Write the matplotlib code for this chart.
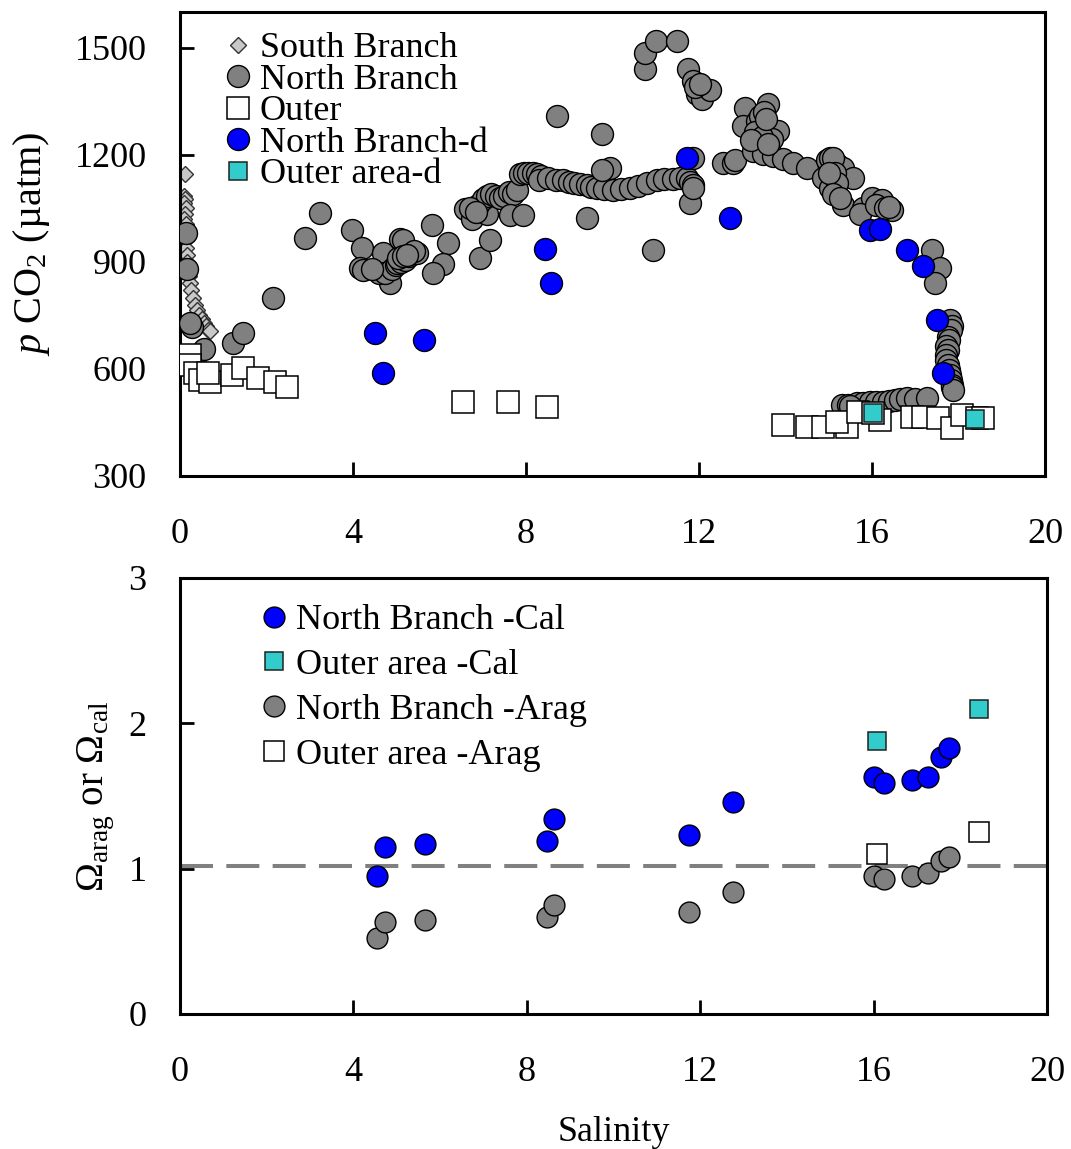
import matplotlib
matplotlib.use('Agg')
import matplotlib.pyplot as plt

plt.rcParams['font.family'] = ['Liberation Serif', 'DejaVu Serif']
plt.rcParams['mathtext.fontset'] = 'custom'
plt.rcParams['mathtext.rm'] = 'Liberation Serif'
plt.rcParams['mathtext.it'] = 'Liberation Serif:italic'

# ---------------- data: top panel (pCO2 vs salinity) ----------------
sb_sal = [0.12, 0.10, 0.12, 0.10, 0.13, 0.12, 0.10, 0.13, 0.12, 0.14, 0.15, 0.16, 0.17,
          0.18, 0.20, 0.22, 0.25, 0.30, 0.35, 0.40, 0.45, 0.50, 0.55, 0.60, 0.65, 0.70]
sb_pco2 = [1147, 1085, 1075, 1065, 1050, 1035, 1020, 1005, 990, 960, 940, 920, 900,
           880, 860, 840, 820, 800, 780, 765, 750, 740, 730, 720, 710, 705]

nb_sal = [0.14, 0.16, 0.28, 0.22, 0.55,
          1.23, 1.46, 2.15, 2.89, 3.24,
          3.98, 4.20, 4.16, 4.23, 4.55, 4.69, 4.86, 4.60, 4.75, 4.90, 5.00, 5.02, 5.09, 5.16,
          5.10, 5.20, 5.30, 5.32, 5.48, 5.40, 5.83, 6.20, 6.08, 5.85, 4.45, 5.05, 5.15, 5.25,
          6.59, 6.75, 6.94, 7.10, 7.17, 6.90, 7.00, 7.10, 7.20, 7.30, 7.40, 7.50, 7.60, 7.70,
          7.80, 7.63, 7.93, 7.86, 7.95, 8.05, 8.16, 8.25, 8.35, 8.30, 6.70, 6.85,
          8.50, 8.70, 8.86, 9.00, 9.10, 9.25, 9.40, 9.50, 9.64, 9.80, 10.00, 10.20, 10.40,
          10.60, 10.80, 11.03, 11.20, 11.40, 11.55, 11.72, 11.80, 11.85, 11.79, 11.86, 11.86,
          9.41, 10.94, 9.94, 9.76, 8.72, 9.76,
          10.75, 10.75, 11.00, 11.49, 11.75, 11.86, 11.95, 12.07, 12.25, 11.90, 12.02,
          12.56, 12.79, 12.83, 13.06, 13.60, 13.02, 13.34, 13.57, 13.83, 13.69, 13.25, 13.48,
          13.71, 13.94, 14.17, 14.50, 13.40, 13.50, 13.30, 13.45, 13.20, 13.60, 13.55,
          14.96, 15.03, 15.19, 15.33, 15.56, 14.87, 15.03, 15.33, 15.79, 16.00, 16.23, 16.46,
          15.72, 15.10, 15.15, 15.20, 15.00, 15.10, 15.25, 16.10, 16.30, 16.40,
          17.39, 17.57, 17.46, 17.80, 17.85, 17.82, 17.75, 17.78, 17.72, 17.75, 17.70, 17.72,
          17.75, 17.78, 17.80, 17.82, 17.85, 17.86, 17.88,
          15.30, 15.45, 15.65, 15.80, 15.95, 16.10, 16.25, 16.40, 16.53, 16.65, 16.80, 17.00,
          17.27, 15.50]
nb_pco2 = [982, 880, 717, 730, 655,
           672, 700, 798, 968, 1038,
           988, 940, 884, 876, 876, 926, 840, 870, 868, 880, 890, 896, 965, 960,
           900, 905, 915, 923, 926, 930, 1002, 954, 895, 868, 880, 910, 915, 920,
           1049, 1021, 912, 1035, 960, 1060, 1075, 1085, 1090, 1085, 1080, 1085, 1095, 1091,
           1100, 1030, 1030, 1147, 1148, 1150, 1150, 1145, 1140, 1130, 1050, 1040,
           1135, 1130, 1128, 1125, 1120, 1119, 1115, 1110, 1108, 1103, 1100, 1105, 1108,
           1112, 1120, 1128, 1132, 1133, 1135, 1136, 1125, 1115, 1066, 1108, 1192,
           1024, 932, 1164, 1156, 1309, 1259,
           1441, 1486, 1519, 1519, 1441, 1407, 1371, 1357, 1382, 1390, 1399,
           1178, 1178, 1184, 1332, 1343, 1281, 1295, 1276, 1267, 1245, 1211, 1203,
           1197, 1189, 1178, 1164, 1310, 1320, 1265, 1250, 1240, 1230, 1300,
           1184, 1192, 1175, 1164, 1136, 1136, 1108, 1058, 1052, 1080, 1072, 1044,
           1035, 1190, 1150, 1120, 1150, 1090, 1080, 1060, 1050, 1055,
           932, 884, 842, 736, 720, 708, 690, 680, 665, 652, 640, 624,
           610, 596, 582, 568, 555, 549, 540,
           498, 500, 504, 505, 507, 506, 507, 510, 513, 515, 518, 516,
           518, 495]

outer_sal = [0.23, 0.23, 0.35, 0.46, 0.69, 0.65, 1.20, 1.46, 1.80, 2.20, 2.47,
             6.54, 7.58, 8.49,
             13.94, 14.50, 14.87, 15.42, 15.19, 15.68, 16.18, 16.02, 16.92, 17.18, 17.53,
             17.85, 18.08, 18.43, 18.57]
outer_pco2 = [638, 610, 588, 568, 563, 588, 582, 602, 574, 563, 549,
              507, 507, 493,
              443, 437, 437, 437, 451, 479, 457, 476, 465, 465, 462,
              434, 470, 462, 462]

nbd_sal = [4.51, 4.69, 5.64, 8.44, 8.58, 11.72, 12.72, 15.95, 16.18, 16.80, 17.18, 17.50, 17.64]
nbd_pco2 = [700, 588, 680, 937, 842, 1192, 1024, 988, 993, 932, 887, 736, 588]

oad_sal = [16.02, 18.38]
oad_pco2 = [476, 459]

# ---------------- data: bottom panel (saturation state) ----------------
nb_cal_sal = [4.55, 4.72, 5.66, 8.46, 8.62, 11.75, 12.76, 16.00, 16.23, 16.88, 17.25, 17.55, 17.73]
nb_cal = [0.95, 1.15, 1.17, 1.19, 1.34, 1.23, 1.46, 1.63, 1.59, 1.61, 1.63, 1.77, 1.83]
oa_cal_sal = [16.07, 18.43]
oa_cal = [1.88, 2.10]
nb_arag_sal = [4.55, 4.72, 5.66, 8.46, 8.62, 11.75, 12.76, 16.00, 16.23, 16.88, 17.25, 17.55, 17.73]
nb_arag = [0.52, 0.63, 0.65, 0.67, 0.75, 0.70, 0.84, 0.95, 0.93, 0.95, 0.97, 1.05, 1.08]
oa_arag_sal = [16.07, 18.43]
oa_arag = [1.10, 1.25]
threshold = 1.02

x_ticks = [0, 4, 8, 12, 16, 20]
y1_ticks = [300, 600, 900, 1200, 1500]
y2_ticks = [0, 1, 2, 3]

GRAY = '#808080'
BLUE = '#0000ff'
CYAN = '#33cccc'
LIGHT = '#c8c8c8'

W, H = 1071, 1149
fig = plt.figure(figsize=(W / 100, H / 100), dpi=100)
ax1 = fig.add_axes([180 / W, 1 - 476 / H, 865 / W, 464 / H])
ax2 = fig.add_axes([180 / W, 1 - 1014 / H, 867 / W, 436 / H])

FS = 26

# top panel
ax1.plot(sb_sal, sb_pco2, ls='none', marker='D', ms=8.5, mfc=LIGHT, mec='#333333', mew=1.0,
         label='South Branch', zorder=2)
ax1.plot(nb_sal, nb_pco2, ls='none', marker='o', ms=15.8, mfc=GRAY, mec='black', mew=1.0,
         label='North Branch', zorder=3)
ax1.plot(outer_sal, outer_pco2, ls='none', marker='s', ms=16.5, mfc='white', mec='black', mew=1.1,
         label='Outer', zorder=4)
ax1.plot(nbd_sal, nbd_pco2, ls='none', marker='o', ms=15.8, mfc=BLUE, mec='black', mew=1.0,
         label='North Branch-d', zorder=5)
ax1.plot(oad_sal, oad_pco2, ls='none', marker='s', ms=13, mfc=CYAN, mec='#222222', mew=1.1,
         label='Outer area-d', zorder=6)

ax1.set_xlim(0, 20)
ax1.set_ylim(300, 1600)
ax1.set_xticks(x_ticks)
ax1.set_yticks(y1_ticks)
ax1.set_ylabel('$p$ CO$_2$ (µatm)', fontsize=29)
ax1.yaxis.set_label_coords(-0.148, 0.5)

leg1 = ax1.legend(loc='upper left', bbox_to_anchor=(0.046, 0.972), frameon=False,
                  handlelength=0.6, handletextpad=0.3, borderpad=0.2, labelspacing=-0.05,
                  fontsize=FS, borderaxespad=0, numpoints=1)

# bottom panel
ax2.axhline(threshold, color=GRAY, lw=2.9, dashes=(8.2, 3.3), zorder=1)
ax2.plot(nb_cal_sal, nb_cal, ls='none', marker='o', ms=15, mfc=BLUE, mec='black', mew=1.0,
         label='North Branch -Cal', zorder=4)
ax2.plot(oa_cal_sal, oa_cal, ls='none', marker='s', ms=12.5, mfc=CYAN, mec='#222222', mew=1.1,
         label='Outer area -Cal', zorder=4)
ax2.plot(nb_arag_sal, nb_arag, ls='none', marker='o', ms=15, mfc=GRAY, mec='black', mew=1.0,
         label='North Branch -Arag', zorder=3)
ax2.plot(oa_arag_sal, oa_arag, ls='none', marker='s', ms=15, mfc='white', mec='black', mew=1.1,
         label='Outer area -Arag', zorder=3)

ax2.set_xlim(0, 20)
ax2.set_ylim(0, 3)
ax2.set_xticks(x_ticks)
ax2.set_yticks(y2_ticks)
ax2.set_xlabel('Salinity', fontsize=FS, labelpad=20)
ax2.set_ylabel(r'$\Omega_{\rm arag}$ or $\Omega_{\rm cal}$', fontsize=28)
ax2.yaxis.set_label_coords(-0.073, 0.5)

leg2 = ax2.legend(loc='upper left', bbox_to_anchor=(0.088, 0.957), frameon=False,
                  handlelength=0.6, handletextpad=0.3, borderpad=0.2, labelspacing=0.32,
                  fontsize=FS, borderaxespad=0, numpoints=1)

for ax in (ax1, ax2):
    for s in ax.spines.values():
        s.set_linewidth(2.2)
    ax.tick_params(direction='in', length=10, width=2, labelsize=FS, top=False, right=False)
    ax.tick_params(axis='x', pad=30)
    ax.tick_params(axis='y', pad=24)

fig.savefig('out.png', dpi=100)
